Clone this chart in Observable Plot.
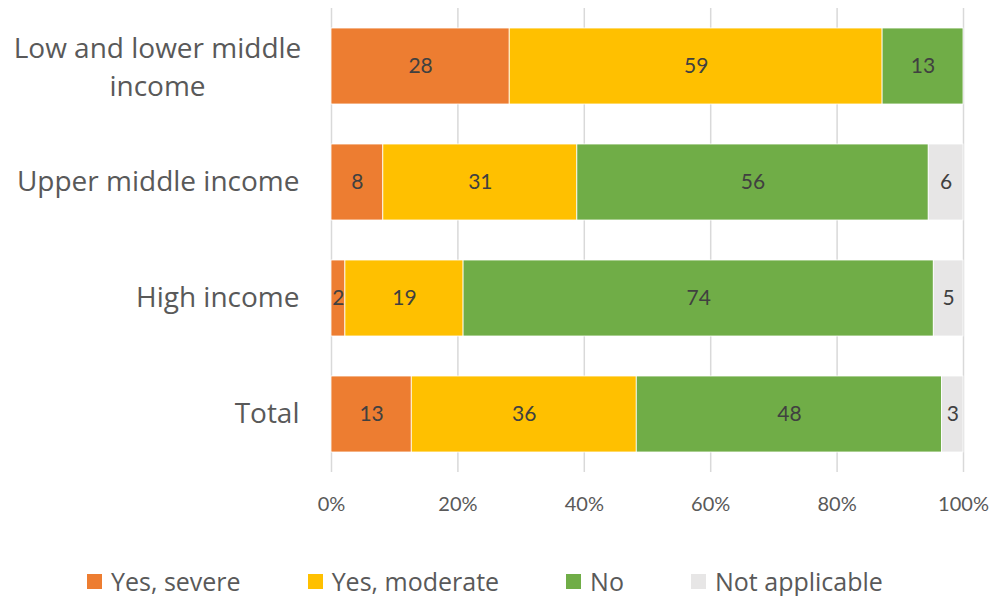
<!DOCTYPE html>
<html>
<head>
<meta charset="utf-8">
<script src="https://cdn.jsdelivr.net/npm/d3@7"></script>
<script src="https://cdn.jsdelivr.net/npm/@observablehq/plot@0.6"></script>
<style>
  html, body { margin: 0; padding: 0; background: #fff; }
  #chart { width: 995px; }
  .legend { display: flex; justify-content: flex-start; align-items: center; gap: 67px;
    font-family: "Open Sans", Lato, sans-serif; font-size: 25px; color: #595959;
    margin-top: 36px; padding-left: 87px; line-height: 30px; }
  .legend .item { display: flex; align-items: center; gap: 9px; }
  .legend .sw { width: 15px; height: 15px; display: inline-block; }
</style>
</head>
<body>
<div id="chart"></div>
<script>
const categories = ["Low and lower middle income", "Upper middle income", "High income", "Total"];
const categoryLabels = ["Low and lower middle\nincome", "Upper middle income", "High income", "Total"];
const seriesNames = ["Yes, severe", "Yes, moderate", "No", "Not applicable"];
const seriesColors = ["#ED7D31", "#FFC000", "#70AD47", "#E7E6E6"];
const severe = [28.2, 8.2, 2.2, 12.7];
const moderate = [59.0, 30.7, 18.7, 35.6];
const no = [12.8, 55.6, 74.4, 48.3];
const notApplicable = [0, 5.5, 4.7, 3.4];
const xTicks = [0, 20, 40, 60, 80, 100];

const seriesValues = [severe, moderate, no, notApplicable];
const data = [];
categories.forEach((c, i) => {
  seriesNames.forEach((s, j) => {
    data.push({category: c, series: s, value: seriesValues[j][i]});
  });
});
const labelOf = Object.fromEntries(categories.map((c, i) => [c, categoryLabels[i]]));
const catFont = "'Open Sans', Lato, sans-serif";

const plot = Plot.plot({
  width: 995,
  height: 530,
  marginLeft: 331,
  marginRight: 32,
  marginTop: 8,
  marginBottom: 58,
  style: {fontFamily: "Lato, 'Open Sans', sans-serif", background: "white"},
  x: {domain: [0, 100], ticks: xTicks, label: null},
  y: {domain: categories, paddingInner: 0.345, paddingOuter: 0.1725, label: null},
  color: {domain: seriesNames, range: seriesColors},
  marks: [
    Plot.gridX(xTicks, {stroke: "#d9d9d9", strokeOpacity: 1, strokeWidth: 1.5}),
    Plot.barX(data, Plot.stackX({
      x: "value", y: "category", fill: "series", z: "series",
      order: seriesNames, stroke: "white", strokeWidth: 0.8
    })),
    Plot.text(data, Plot.stackX({
      x: "value", y: "category", z: "series", order: seriesNames,
      filter: d => d.value > 0,
      text: d => String(Math.round(d.value)),
      fill: "#404040", fontSize: 21
    })),
    Plot.axisX(xTicks, {
      tickSize: 0, tickPadding: 24, fontSize: 20, fill: "#595959", label: null,
      tickFormat: d => d + "%"
    }),
    Plot.axisY({
      tickSize: 0, tickPadding: 32, fontSize: 28, fill: "#595959", label: null,
      fontFamily: catFont,
      tickFormat: d => d === categories[0] ? "" : labelOf[d]
    }),
    Plot.text([categories[0]], {
      y: d => d, text: d => labelOf[d], frameAnchor: "left", fontFamily: catFont,
      textAnchor: "middle", dx: -174, fontSize: 28, lineHeight: 1.39, fill: "#595959", dy: -2
    })
  ]
});
document.getElementById("chart").appendChild(plot);

const legend = document.createElement("div");
legend.className = "legend";
seriesNames.forEach((s, j) => {
  const item = document.createElement("div");
  item.className = "item";
  const sw = document.createElement("span");
  sw.className = "sw";
  sw.style.background = seriesColors[j];
  const t = document.createElement("span");
  t.textContent = s;
  item.appendChild(sw);
  item.appendChild(t);
  legend.appendChild(item);
});
document.getElementById("chart").appendChild(legend);
</script>
</body>
</html>
